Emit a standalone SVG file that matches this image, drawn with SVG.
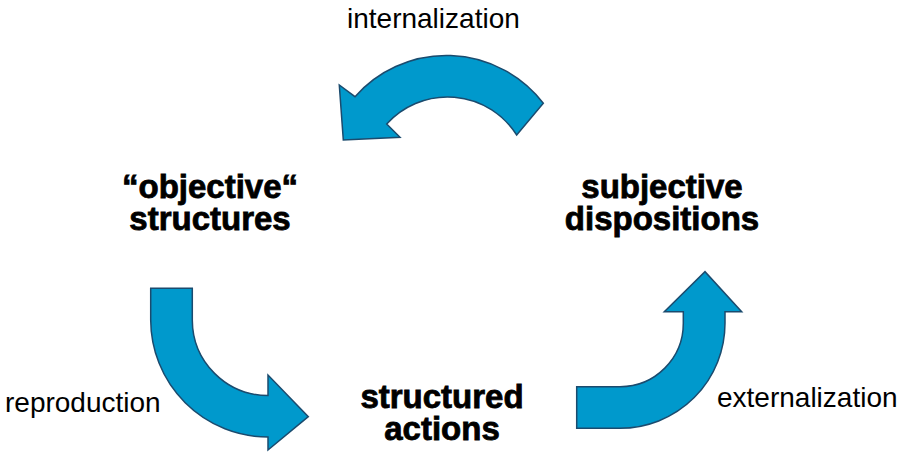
<svg xmlns="http://www.w3.org/2000/svg" width="897" height="457" viewBox="0 0 897 457">
<style>
.arrow{fill:#0099CC;stroke:#1B4B6E;stroke-width:1.5;stroke-linejoin:miter}
.lbl{font-family:"Liberation Sans",Arial,sans-serif;font-size:28px;fill:#000}
.node{font-family:"Liberation Sans",Arial,sans-serif;font-size:33px;font-weight:bold;fill:#000;stroke:#000;stroke-width:0.8;text-anchor:middle}
</style>
<rect width="897" height="457" fill="#fff"/>
<g id="connectors">
  <g id="internalization-arrow">
    <path class="arrow" d="M543.3,103.3 A122,122 0 0 0 355,96.7 L339.3,85 L343.3,140 L400,137.3 L386.7,124 A82,82 0 0 1 516.7,135 Z"/>
    <text class="lbl" x="347" y="28">internalization</text>
  </g>
  <g id="reproduction-arrow">
    <path class="arrow" d="M150.7,288.3 L192.3,288.3 L192.3,320 A75.7,75.7 0 0 0 268,395.5 L268,375 L308.3,416.7 L268,450 L268,437 A117.3,117.3 0 0 1 150.7,320 Z"/>
    <text class="lbl" x="5" y="412">reproduction</text>
  </g>
  <g id="externalization-arrow">
    <path class="arrow" d="M576.7,428.3 L576.7,386.7 L620,386.7 A63.3,63.3 0 0 0 683.3,323.3 L683.3,311.7 L664.3,311.7 L705,271.7 L741.7,311.7 L725,311.7 L725,323.3 A105,105 0 0 1 620,428.3 Z"/>
    <text class="lbl" x="717" y="407">externalization</text>
  </g>
</g>
<g id="objective-structures">
  <text class="node" x="210" y="198">“objective“</text>
  <text class="node" x="210" y="230">structures</text>
</g>
<g id="subjective-dispositions">
  <text class="node" x="662" y="198">subjective</text>
  <text class="node" x="662" y="230">dispositions</text>
</g>
<g id="structured-actions">
  <text class="node" x="442" y="408">structured</text>
  <text class="node" x="442" y="440">actions</text>
</g>
</svg>
